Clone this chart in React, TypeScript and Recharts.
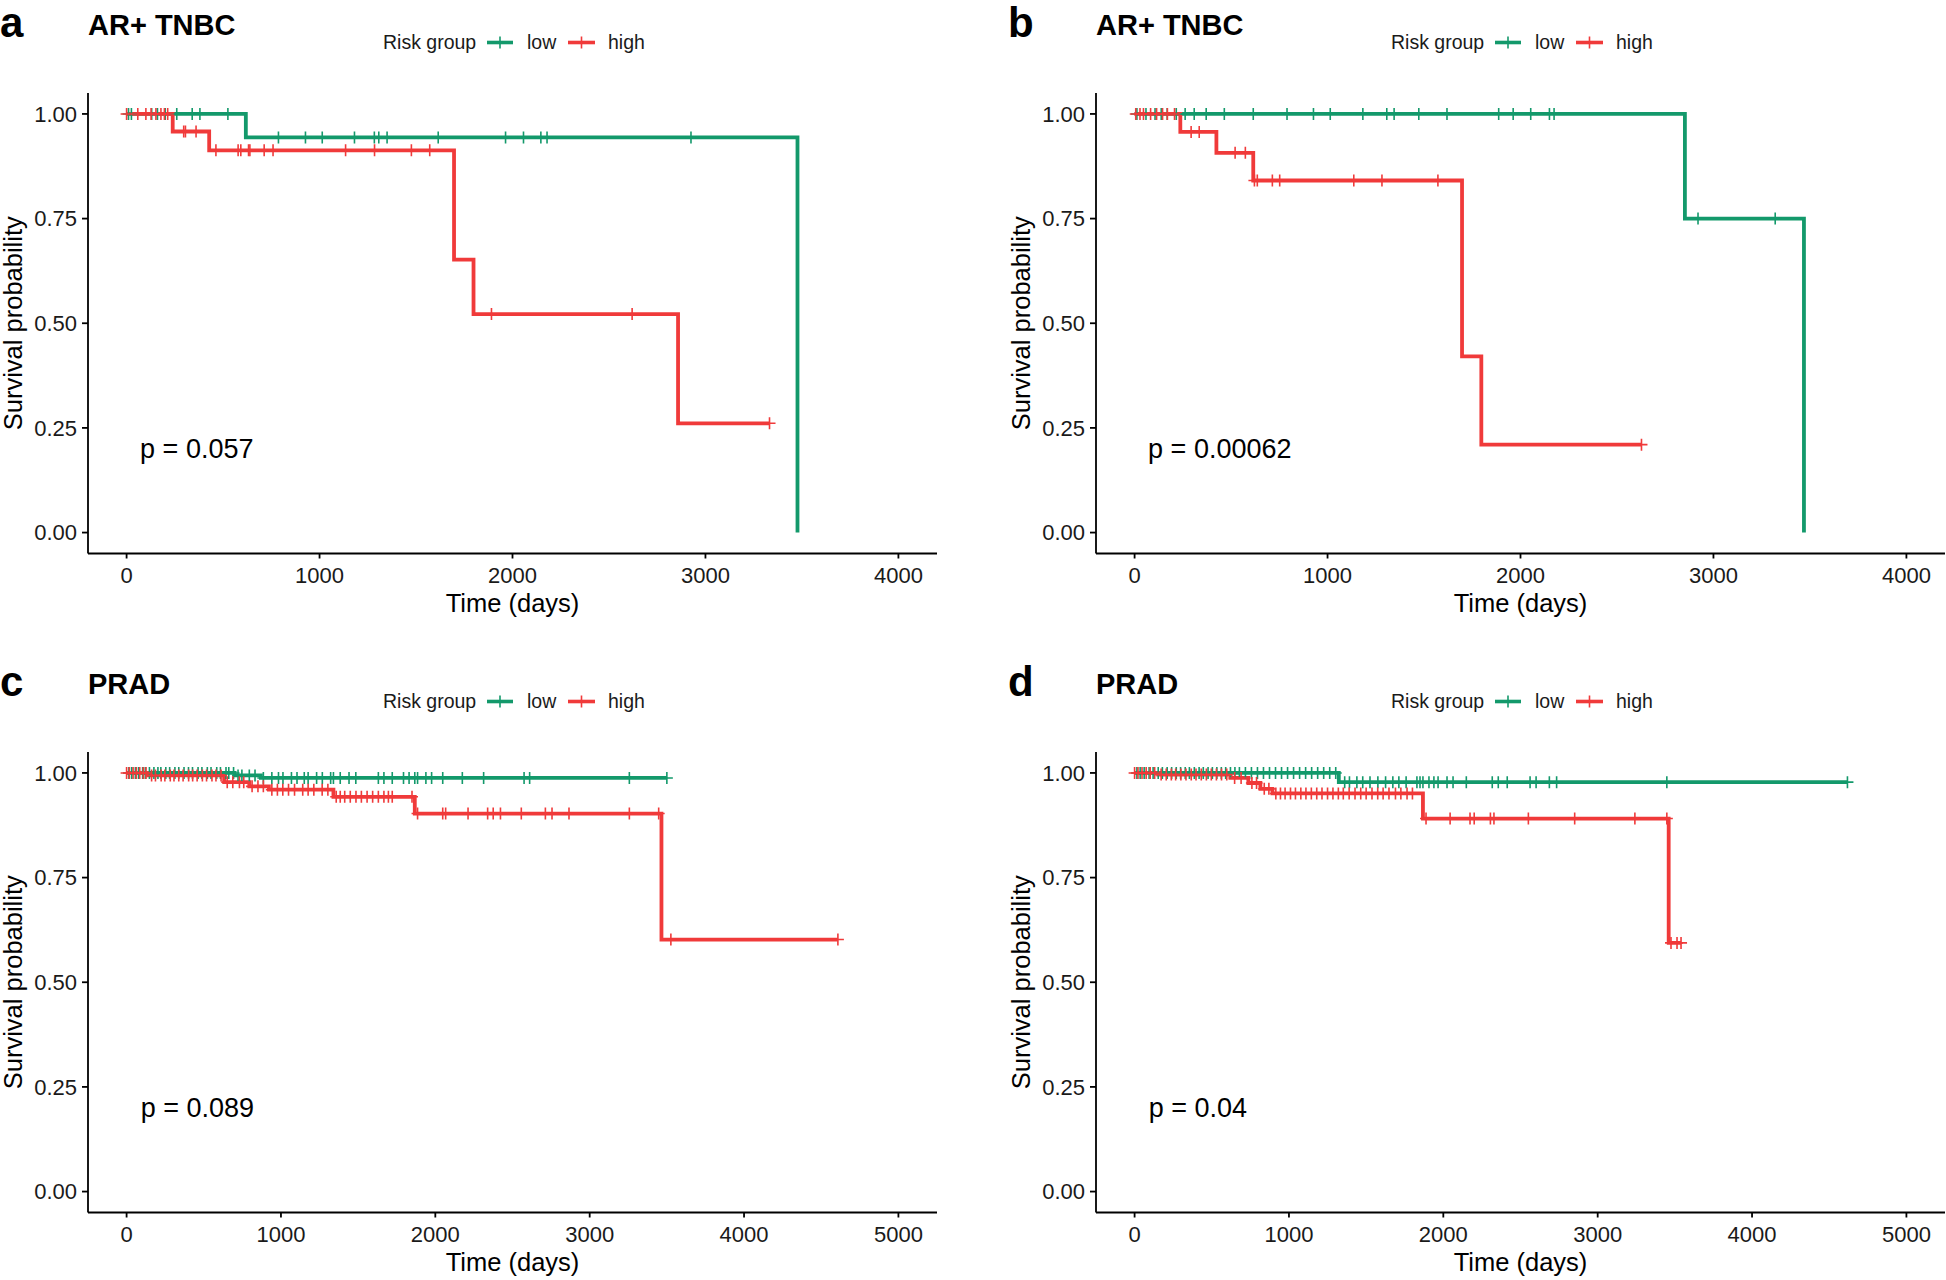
import { LineChart, Line, XAxis, YAxis, ReferenceDot } from "recharts";

const GREEN = "#13996b";
const RED = "#f03a3a";
const FONT = '"Liberation Sans", Arial, Helvetica, sans-serif';

// ---- panel a : AR+ TNBC ----
const aLowT = [0, 618, 3477];
const aLowS = [1, 0.944, 0];
const aLowCens = [10, 25, 130, 160, 200, 260, 340, 380, 525, 787, 927, 1014, 1181, 1284, 1307, 1350, 1615, 1964, 2057, 2147, 2179, 2925];
const aHighT = [0, 239, 428, 1697, 1798, 2858];
const aHighS = [1, 0.958, 0.913, 0.652, 0.522, 0.261];
const aHighCens = [0, 58, 100, 127, 152, 178, 196, 213, 296, 305, 360, 463, 578, 592, 632, 639, 713, 759, 1135, 1285, 1476, 1571, 1891, 2620, 3332];

// ---- panel b : AR+ TNBC ----
const bLowT = [0, 2852, 3469];
const bLowS = [1, 0.75, 0];
const bLowCens = [12, 59, 106, 138, 169, 216, 262, 309, 371, 465, 615, 790, 927, 1014, 1183, 1307, 1345, 1473, 1619, 1887, 1962, 2053, 2150, 2174, 2920, 3320];
const bHighT = [0, 237, 424, 615, 1697, 1797];
const bHighS = [1, 0.957, 0.907, 0.841, 0.421, 0.21];
const bHighCens = [6, 28, 46, 83, 114, 145, 170, 207, 293, 335, 521, 574, 621, 636, 714, 752, 1136, 1282, 1572, 2627];

// ---- panel c : PRAD ----
const cLowT = [0, 700, 870];
const cLowS = [1, 0.994, 0.988];
const cLowCens = [15, 33, 57, 78, 104, 121, 148, 177, 203, 222, 254, 279, 313, 338, 372, 401, 427, 463, 488, 523, 547, 584, 608, 644, 662, 693, 722, 747, 795, 832, 886, 941, 984, 1013, 1068, 1104, 1151, 1176, 1231, 1268, 1322, 1340, 1384, 1441, 1485, 1631, 1667, 1721, 1794, 1830, 1867, 1885, 1939, 1976, 2048, 2175, 2313, 2575, 2611, 3257, 3500];
const cHighT = [0, 141, 632, 795, 922, 1340, 1867, 3465];
const cHighS = [1, 0.994, 0.978, 0.968, 0.96, 0.943, 0.903, 0.602];
const cHighCens = [0, 18, 42, 63, 85, 108, 126, 162, 187, 224, 248, 283, 307, 338, 366, 402, 428, 457, 491, 518, 553, 579, 612, 652, 688, 731, 759, 813, 851, 886, 941, 977, 1012, 1049, 1088, 1141, 1176, 1213, 1267, 1304, 1358, 1384, 1413, 1449, 1486, 1521, 1558, 1594, 1631, 1667, 1696, 1721, 1849, 1885, 2048, 2067, 2212, 2339, 2375, 2422, 2557, 2713, 2756, 2866, 3257, 3447, 3526, 4608];

// ---- panel d : PRAD ----
const dLowT = [0, 1323];
const dLowS = [1, 0.978];
const dLowCens = [15, 36, 62, 94, 120, 153, 180, 211, 240, 270, 298, 328, 355, 387, 418, 445, 476, 504, 533, 562, 590, 621, 650, 679, 718, 757, 796, 835, 874, 913, 952, 991, 1030, 1069, 1108, 1147, 1186, 1225, 1264, 1303, 1361, 1392, 1440, 1478, 1525, 1576, 1626, 1673, 1712, 1759, 1829, 1849, 1868, 1907, 1939, 1966, 2024, 2063, 2149, 2317, 2356, 2414, 2562, 2601, 2687, 2734, 3448, 4618];
const dHighT = [0, 153, 621, 737, 815, 893, 1868, 3460];
const dHighS = [1, 0.996, 0.988, 0.976, 0.962, 0.951, 0.891, 0.594];
const dHighCens = [0, 22, 48, 75, 101, 130, 172, 205, 238, 266, 300, 333, 367, 398, 432, 465, 497, 530, 563, 597, 648, 690, 760, 790, 840, 870, 915, 945, 975, 1010, 1042, 1077, 1110, 1145, 1180, 1214, 1250, 1285, 1320, 1352, 1390, 1428, 1465, 1500, 1538, 1575, 1610, 1648, 1690, 1725, 1765, 1800, 1888, 2044, 2173, 2200, 2305, 2328, 2551, 2851, 3241, 3448, 3475, 3514, 3540];

const yTicks = [0, 0.25, 0.5, 0.75, 1];
const xTicks4000 = [0, 1000, 2000, 3000, 4000];
const xTicks5000 = [0, 1000, 2000, 3000, 4000, 5000];

function stepData(times: number[], surv: number[], cens: number[]) {
  const pts = times.map((t, i) => ({ t, s: surv[i] }));
  const lastT = times[times.length - 1];
  const end = Math.max(lastT, ...cens);
  if (end > lastT) pts.push({ t: end, s: surv[surv.length - 1] });
  return pts;
}

function censorData(times: number[], surv: number[], cens: number[]) {
  return cens.map((t) => {
    let s = surv[0];
    times.forEach((tt, i) => {
      if (tt <= t) s = surv[i];
    });
    return { t, s };
  });
}

const plusMark = (color: string) => (props: any) => {
  const { cx, cy, index } = props;
  if (cx == null || cy == null) return <g key={`n${index}`} />;
  return (
    <path
      key={`c${index}`}
      d={`M${cx - 6},${cy}H${cx + 6}M${cx},${cy - 6}V${cy + 6}`}
      stroke={color}
      strokeWidth={1.6}
      fill="none"
    />
  );
};

const panels = [
  { letter: "a", title: "AR+ TNBC", left: 0, top: 0, domain: [-200, 4200], ticks: xTicks4000, p: "p = 0.057", pX: 70,
    low: [aLowT, aLowS, aLowCens], high: [aHighT, aHighS, aHighCens] },
  { letter: "b", title: "AR+ TNBC", left: 1008, top: 0, domain: [-200, 4200], ticks: xTicks4000, p: "p = 0.00062", pX: 70,
    low: [bLowT, bLowS, bLowCens], high: [bHighT, bHighS, bHighCens] },
  { letter: "c", title: "PRAD", left: 0, top: 659, domain: [-250, 5250], ticks: xTicks5000, p: "p = 0.089", pX: 92,
    low: [cLowT, cLowS, cLowCens], high: [cHighT, cHighS, cHighCens] },
  { letter: "d", title: "PRAD", left: 1008, top: 659, domain: [-250, 5250], ticks: xTicks5000, p: "p = 0.04", pX: 92,
    low: [dLowT, dLowS, dLowCens], high: [dHighT, dHighS, dHighCens] },
];

const XTitle = (props: any) => {
  const vb = props.viewBox || { x: 88, y: 553.5, width: 849 };
  return (
    <text x={vb.x + vb.width / 2} y={vb.y + 58} textAnchor="middle" fontSize={25.5} fill="#000">
      Time (days)
    </text>
  );
};

const YTitle = (props: any) => {
  const vb = props.viewBox || { x: 0, y: 93, height: 460.5 };
  const cx = 13;
  const cy = vb.y + vb.height / 2;
  return (
    <text x={cx} y={cy} transform={`rotate(-90 ${cx} ${cy})`} textAnchor="middle" dominantBaseline="central" fontSize={25.5} fill="#000">
      Survival probability
    </text>
  );
};

function Panel({ cfg }: { cfg: (typeof panels)[number] }) {
  const [lt, ls, lc] = cfg.low;
  const [ht, hs, hc] = cfg.high;
  return (
    <div style={{ position: "absolute", left: cfg.left, top: cfg.top, width: 938, height: 621 }}>
      <LineChart width={938} height={621} margin={{ top: 93, right: 1, left: 0, bottom: 0 }}>
        <XAxis
          type="number"
          dataKey="t"
          domain={cfg.domain}
          ticks={cfg.ticks}
          interval={0}
          allowDataOverflow
          height={67.5}
          tickSize={5}
          tickMargin={9}
          stroke="#000"
          strokeWidth={1.8}
          tick={{ fill: "#1a1a1a", fontSize: 22 }}
          label={<XTitle />}
        />
        <YAxis
          type="number"
          domain={[-0.05, 1.05]}
          ticks={yTicks}
          interval={0}
          allowDataOverflow
          width={88}
          tickSize={6}
          tickMargin={5}
          stroke="#000"
          strokeWidth={1.8}
          tickFormatter={(v: number) => v.toFixed(2)}
          tick={{ fill: "#1a1a1a", fontSize: 22 }}
          label={<YTitle />}
        />
        <Line data={stepData(lt, ls, lc)} dataKey="s" type="stepAfter" stroke={GREEN} strokeWidth={3.8} dot={false} activeDot={false} isAnimationActive={false} />
        <Line data={stepData(ht, hs, hc)} dataKey="s" type="stepAfter" stroke={RED} strokeWidth={3.8} dot={false} activeDot={false} isAnimationActive={false} />
        <Line data={censorData(lt, ls, lc)} dataKey="s" stroke="none" dot={plusMark(GREEN)} activeDot={false} isAnimationActive={false} />
        <Line data={censorData(ht, hs, hc)} dataKey="s" stroke="none" dot={plusMark(RED)} activeDot={false} isAnimationActive={false} />
        <ReferenceDot
          x={cfg.pX}
          y={0.2}
          r={0}
          shape={(p: any) => (
            <text x={p.cx} y={p.cy} dominantBaseline="central" fontSize={27} fill="#000">
              {cfg.p}
            </text>
          )}
        />
      </LineChart>
      <svg width={938} height={93} style={{ position: "absolute", left: 0, top: 0, pointerEvents: "none" }}>
        <text x={0} y={37} fontSize={42} fontWeight="bold" fill="#000">{cfg.letter}</text>
        <text x={88} y={35} fontSize={29} fontWeight="bold" fill="#000">{cfg.title}</text>
        <text x={383} y={49} fontSize={19.5} fill="#1a1a1a">Risk group</text>
        <line x1={487} x2={513} y1={42.5} y2={42.5} stroke={GREEN} strokeWidth={3.6} />
        <line x1={500} x2={500} y1={36.5} y2={48.5} stroke={GREEN} strokeWidth={1.6} />
        <text x={527} y={49} fontSize={19.5} fill="#1a1a1a">low</text>
        <line x1={568} x2={595} y1={42.5} y2={42.5} stroke={RED} strokeWidth={3.6} />
        <line x1={581.5} x2={581.5} y1={36.5} y2={48.5} stroke={RED} strokeWidth={1.6} />
        <text x={608} y={49} fontSize={19.5} fill="#1a1a1a">high</text>
      </svg>
    </div>
  );
}

export default function App() {
  return (
    <div
      style={{
        position: "absolute",
        left: 0,
        top: 0,
        width: 1946,
        height: 1280,
        overflow: "hidden",
        background: "#fff",
        fontFamily: FONT,
      }}
    >
      {panels.map((cfg) => (
        <Panel key={cfg.letter} cfg={cfg} />
      ))}
    </div>
  );
}
